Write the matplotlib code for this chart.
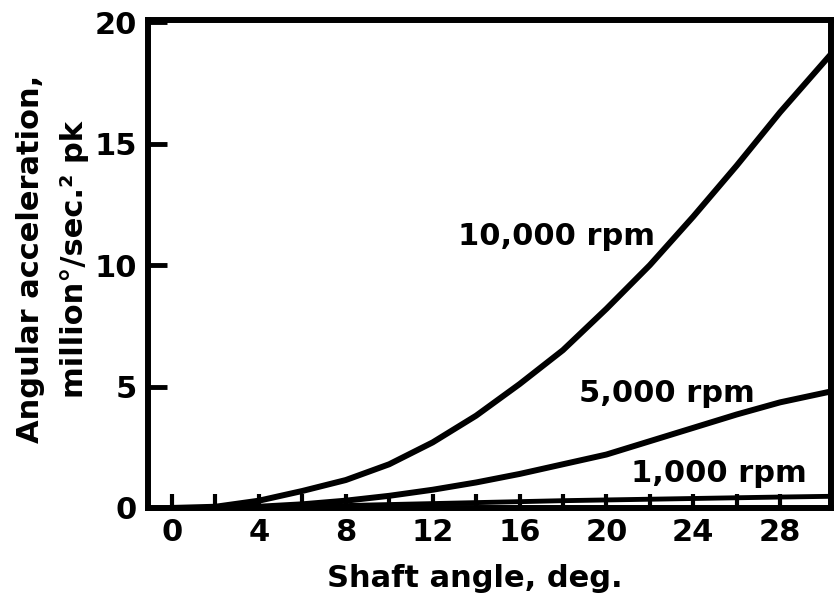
import matplotlib.pyplot as plt

# shaft angle (deg) at which the curves were read
angles = [0, 2, 4, 6, 8, 10, 12, 14, 16, 18, 20, 22, 24, 26, 28, 30.35]
# angular acceleration, million deg/sec^2 peak
accel_10000 = [0, 0.05, 0.3, 0.7, 1.15, 1.8, 2.7, 3.8, 5.1, 6.5, 8.2, 10.0, 12.0, 14.1, 16.3, 18.7]
accel_5000 = [0, 0, 0.05, 0.15, 0.3, 0.5, 0.75, 1.05, 1.4, 1.8, 2.2, 2.75, 3.3, 3.85, 4.35, 4.8]
accel_1000 = [0, 0, 0.02, 0.05, 0.1, 0.14, 0.18, 0.22, 0.26, 0.3, 0.33, 0.36, 0.39, 0.42, 0.45, 0.48]

x_ticks = [0, 4, 8, 12, 16, 20, 24, 28]
x_minor = [2, 6, 10, 14, 18, 22, 26]
y_ticks = [0, 5, 10, 15, 20]

plt.rcParams['font.family'] = ['DejaVu Sans']
plt.rcParams['font.weight'] = 'bold'
fs = 22

fig = plt.figure(figsize=(8.37, 6.04), dpi=100)
ax = fig.add_axes([0.177, 0.159, 0.816, 0.808])

lw = 4.3
ax.plot(angles, accel_10000, color='black', lw=lw, solid_capstyle='butt', solid_joinstyle='round')
ax.plot(angles, accel_5000, color='black', lw=lw, solid_capstyle='butt', solid_joinstyle='round')
ax.plot(angles, accel_1000, color='black', lw=3.5, solid_capstyle='butt', solid_joinstyle='round')

ax.set_xlim(-1.1, 30.35)
ax.set_ylim(0, 20.1)

for s in ax.spines.values():
    s.set_linewidth(4.3)

ax.set_xticks(x_ticks)
ax.set_xticks(x_minor, minor=True)
ax.set_yticks(y_ticks)
ax.tick_params(axis='x', which='both', direction='in', length=10, width=3, labelsize=fs, pad=7)
ax.tick_params(axis='y', direction='in', length=14, width=3.5, labelsize=fs, pad=8)
for lab in ax.get_xticklabels() + ax.get_yticklabels():
    lab.set_fontweight('bold')

ax.set_xlabel('Shaft angle, deg.', fontsize=fs, fontweight='bold')
ax.xaxis.set_label_coords(0.478, -0.115)
ax.set_ylabel('Angular acceleration,\nmillion°/sec.² pk', fontsize=fs, fontweight='bold',
              linespacing=1.65)
ax.yaxis.set_label_coords(-0.086, 0.51)

ax.text(17.7, 11.2, '10,000 rpm', fontsize=fs, fontweight='bold', ha='center', va='center')
ax.text(22.8, 4.7, '5,000 rpm', fontsize=fs, fontweight='bold', ha='center', va='center')
ax.text(25.2, 1.4, '1,000 rpm', fontsize=fs, fontweight='bold', ha='center', va='center')

fig.savefig('out.png', dpi=100)
